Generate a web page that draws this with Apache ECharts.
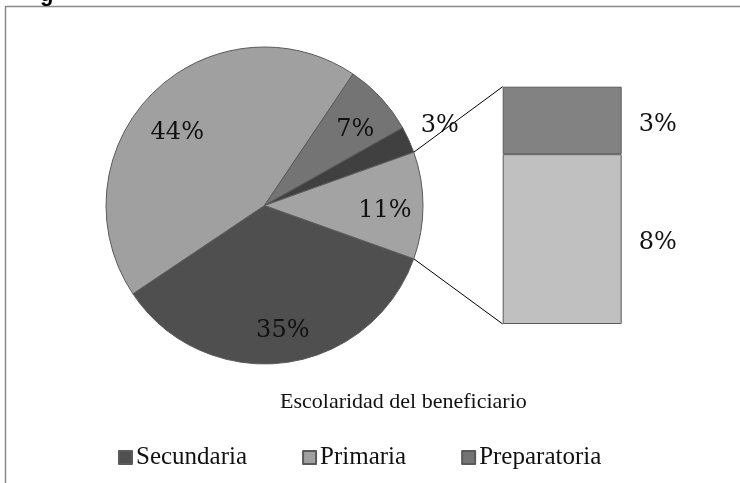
<!DOCTYPE html>
<html>
<head>
<meta charset="utf-8">
<script src="https://cdn.jsdelivr.net/npm/echarts@6.0.0/dist/echarts.min.js"></script>
<style>
  html, body { margin: 0; padding: 0; background: #fff; }
  #chart { width: 740px; height: 483px; }
</style>
</head>
<body>
<div id="chart"></div>
<script>
// escolaridad del beneficiario - pie of pie
const categories = ['Secundaria', 'Primaria', 'Preparatoria', 'Licenciatura'];
const values = [35.1, 43.8, 7.4, 2.7];
const colors = ['#4f4f4f', '#a0a0a0', '#747474', '#404040'];

// the "other" slice, split in the stacked bar
const otherName = 'Otros';
const otherColor = '#a3a3a3';
const subCategories = ['Posgrado', 'Ninguna'];
const subValues = [3.1, 7.8];
const subColors = ['#828282', '#c0c0c0'];

const legendNames = ['Secundaria', 'Primaria', 'Preparatoria'];
const titleText = 'Escolaridad del beneficiario';

const otherTotal = subValues.reduce((a, b) => a + b, 0);
const total = values.reduce((a, b) => a + b, 0) + otherTotal;

const cx = 264.5, cy = 205.5, r = 158.5;
const bar = { left: 502.7, top: 86.7, width: 119, height: 237.3 };
const labelFont = { fontFamily: 'DejaVu Serif', fontSize: 24, color: '#111' };
// nudges so labels sit where the original placed them
const labelOffsets = [[3, 3], [0, 15], [0, 8], [63, -29], [-3, 5]];

const pieData = categories.map((name, i) => ({
  name, value: values[i], itemStyle: { color: colors[i] }
}));
pieData.push({ name: otherName, value: otherTotal, itemStyle: { color: otherColor } });

// other slice centered on 3 o'clock
const startAngle = -(otherTotal / total) * 180;

const ghostData = pieData.map((d, i) => ({
  name: d.name, value: d.value, label: { offset: labelOffsets[i] }
}));

const chart = echarts.init(document.getElementById('chart'));

const half = (otherTotal / total) * Math.PI;
const px = cx + r * Math.cos(half);
const pyTop = cy - r * Math.sin(half);
const pyBot = cy + r * Math.sin(half);

const options = {
  animation: false,
  title: {
    text: titleText,
    left: 275,
    top: 386,
    textStyle: { fontFamily: 'Liberation Serif', fontSize: 22, fontWeight: 'normal', color: '#111' }
  },
  legend: {
    data: legendNames,
    left: 113,
    top: 440,
    icon: 'rect',
    itemWidth: 13,
    itemHeight: 13,
    itemGap: 55,
    selectedMode: false,
    textStyle: { fontFamily: 'Liberation Serif', fontSize: 25, color: '#111', padding: [0, 0, 0, -1] }
  },
  grid: { left: bar.left, top: bar.top, width: bar.width, height: bar.height },
  xAxis: { type: 'category', data: [''], show: false },
  yAxis: { type: 'value', min: 0, max: otherTotal, show: false },
  series: [
    {
      name: 'Escolaridad',
      type: 'pie',
      center: [cx, cy],
      radius: r,
      startAngle: startAngle,
      clockwise: true,
      label: { show: false },
      labelLine: { show: false },
      itemStyle: { borderColor: '#5a5a5a', borderWidth: 1 },
      emphasis: { disabled: true },
      data: pieData
    },
    {
      name: 'Etiquetas',
      type: 'pie',
      center: [cx, cy],
      radius: [r * 0.52, r],
      startAngle: startAngle,
      clockwise: true,
      silent: true,
      itemStyle: { color: 'rgba(0,0,0,0)' },
      label: {
        show: true,
        position: 'inside',
        formatter: p => Math.round(p.percent) + '%',
        ...labelFont
      },
      labelLine: { show: false },
      emphasis: { disabled: true },
      data: ghostData
    },
    ...subCategories.slice().reverse().map((name, k) => {
      const i = subCategories.length - 1 - k;
      return {
        name,
        type: 'bar',
        stack: 'otros',
        barWidth: '100%',
        data: [subValues[i]],
        itemStyle: { color: subColors[i], borderColor: '#5a5a5a', borderWidth: 1 },
        label: {
          show: true,
          position: 'right',
          distance: 17,
          offset: [0, 4],
          formatter: p => Math.round(p.value) + '%',
          ...labelFont
        },
        emphasis: { disabled: true }
      };
    })
  ],
  graphic: [
    {
      type: 'rect',
      shape: { x: 5.5, y: 6.5, width: 900, height: 600 },
      style: { fill: 'none', stroke: '#8a8a8a', lineWidth: 1.5 },
      silent: true
    },
    {
      type: 'text',
      x: 40,
      y: 6,
      style: { text: 'g', font: 'bold 22px Liberation Sans', textVerticalAlign: 'bottom', fill: '#000' },
      silent: true
    },
    {
      type: 'line',
      shape: { x1: px, y1: pyTop, x2: bar.left, y2: bar.top },
      style: { stroke: '#000', lineWidth: 1 },
      silent: true
    },
    {
      type: 'line',
      shape: { x1: px, y1: pyBot, x2: bar.left, y2: bar.top + bar.height },
      style: { stroke: '#000', lineWidth: 1 },
      silent: true
    }
  ]
};

chart.setOption(options);
</script>
</body>
</html>
